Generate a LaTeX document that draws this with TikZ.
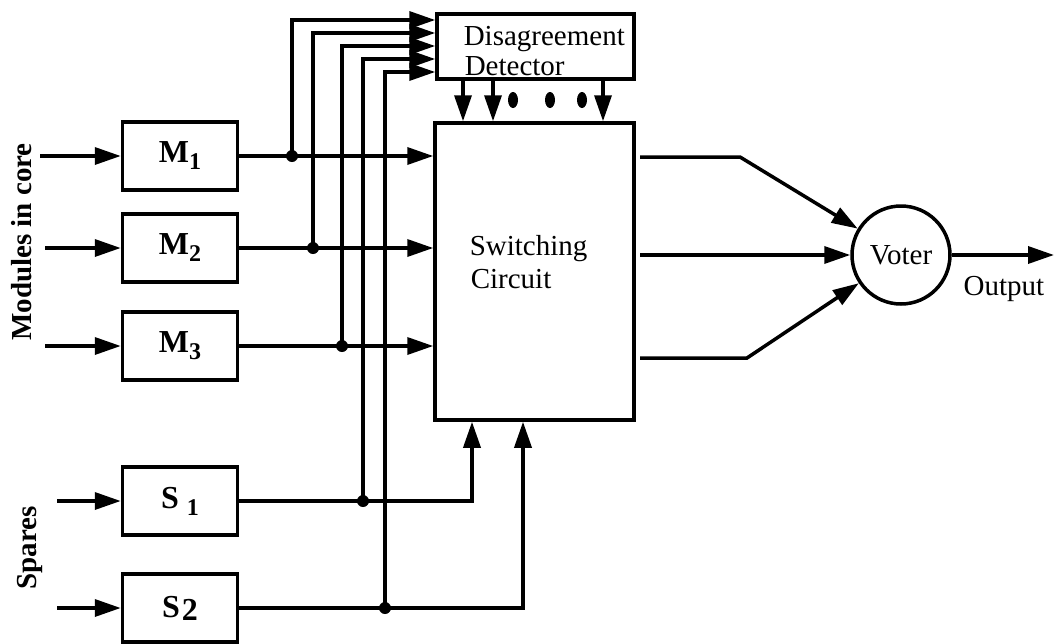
\documentclass[tikz,border=0pt]{standalone}
\usepackage{fontspec}
\setmainfont{Liberation Serif}
\usetikzlibrary{arrows.meta,shapes.geometric}
\begin{document}
\begin{tikzpicture}[x=1pt,y=-1pt,
  line width=3.5pt,
  >={Triangle[length=26pt,width=17pt]},
  box/.style={draw,minimum width=115pt,minimum height=68pt,inner sep=0pt,
    font=\fontsize{32}{32}\selectfont\bfseries},
  lbl/.style={inner sep=0pt,font=\fontsize{29}{30}\selectfont},
  blbl/.style={inner sep=0pt,font=\fontsize{29}{30}\selectfont\bfseries},
  dot/.style={circle,fill,inner sep=0pt,minimum size=12pt},
  edot/.style={ellipse,fill,inner sep=0pt,minimum width=10pt,minimum height=16pt},
]
\useasboundingbox (0,0) rectangle (1055,643);

% module boxes
\node[box] (m1) at (180,156) {M\raisebox{-7pt}{\fontsize{24}{24}\selectfont 1}};
\node[box] (m2) at (180,248) {M\raisebox{-7pt}{\fontsize{24}{24}\selectfont 2}};
\node[box] (m3) at (180,346) {M\raisebox{-7pt}{\fontsize{24}{24}\selectfont 3}};
\node[box] (s1) at (180,501) {S\hspace{8pt}\raisebox{-7pt}{\fontsize{24}{24}\selectfont 1}};
\node[box] (s2) at (180,608) {S\hspace{2pt}\raisebox{-3pt}{2}};

% side labels
\node[blbl,rotate=90] (mic) at (22,242) {Modules in core};
\node[blbl,rotate=90] (spr) at (30,548) {Spares};

% switching circuit and detector
\node[draw,minimum width=199pt,minimum height=297pt,inner sep=0pt] (sw) at (534.5,271.5) {};
\node[lbl,anchor=base west] (swt1) at (468,255) {Switching};
\node[lbl,anchor=base west] (swt2) at (469,288) {Circuit};
\node[draw,minimum width=197pt,minimum height=65pt,inner sep=0pt] (dd) at (535.5,46.5) {};
\node[lbl,anchor=base west] (ddt1) at (462,45) {Disagreement};
\node[lbl,anchor=base west] (ddt2) at (463,75) {Detector};

% voter
\node[draw,circle,minimum size=98pt,lbl] (voter) at (901,255) {Voter};
\node[lbl,anchor=base] (outl) at (1004,295) {Output};

% inputs
\coordinate (i1) at (40,156);
\coordinate (i2) at (45,248);
\coordinate (i3) at (45,346);
\coordinate (i4) at (57,501);
\coordinate (i5) at (57,608);
\draw[->] (i1) -- (m1.west);
\draw[->] (i2) -- (m2.west);
\draw[->] (i3) -- (m3.west);
\draw[->] (i4) -- (s1.west);
\draw[->] (i5) -- (s2.west);

% module outputs to switching circuit
\draw[->] (m1.east) -- (sw.west |- m1.east);
\draw[->] (m2.east) -- (sw.west |- m2.east);
\draw[->] (m3.east) -- (sw.west |- m3.east);
\coordinate (b1) at (472,0);
\coordinate (b2) at (523,0);
\draw[->] (s1.east) -- (b1 |- s1.east) -- (b1 |- sw.south);
\draw[->] (s2.east) -- (b2 |- s2.east) -- (b2 |- sw.south);

% taps to disagreement detector
\coordinate (v1) at (292,0);
\coordinate (v2) at (313,0);
\coordinate (v3) at (342,0);
\coordinate (v4) at (363,0);
\coordinate (v5) at (385,0);
\coordinate (h1) at (0,20);
\coordinate (h2) at (0,33);
\coordinate (h3) at (0,46);
\coordinate (h4) at (0,59);
\coordinate (h5) at (0,72);
\node[dot] (j1) at (v1 |- m1.east) {};
\node[dot] (j2) at (v2 |- m2.east) {};
\node[dot] (j3) at (v3 |- m3.east) {};
\node[dot] (j4) at (v4 |- s1.east) {};
\node[dot] (j5) at (v5 |- s2.east) {};
\draw[->] (j1.center) -- (v1 |- h1) -- (dd.west |- h1);
\draw[->] (j2.center) -- (v2 |- h2) -- (dd.west |- h2);
\draw[->] (j3.center) -- (v3 |- h3) -- (dd.west |- h3);
\draw[->] (j4.center) -- (v4 |- h4) -- (dd.west |- h4);
\draw[->] (j5.center) -- (v5 |- h5) -- (dd.west |- h5);

% detector to switching circuit
\coordinate (c1) at (463,0);
\coordinate (c2) at (493,0);
\coordinate (c3) at (603,0);
\draw[->] (c1 |- dd.south) -- (c1 |- sw.north);
\draw[->] (c2 |- dd.south) -- (c2 |- sw.north);
\draw[->] (c3 |- dd.south) -- (c3 |- sw.north);
\node[edot] (e1) at (513,100) {};
\node[edot] (e2) at (550,100) {};
\node[edot] (e3) at (582,100) {};

% switching circuit to voter
\coordinate (o1) at (640,157);
\coordinate (k1) at (740,157);
\coordinate (o2) at (640,255);
\coordinate (o3) at (640,358);
\coordinate (k3) at (747,358);
\draw[->] (o1) -- (k1) -- (voter);
\draw[->] (o2) -- (voter.west);
\draw[->] (o3) -- (k3) -- (voter);

% output
\coordinate (oe) at (1054,255);
\draw[->] (voter.east) -- (oe);
\end{tikzpicture}
\end{document}
